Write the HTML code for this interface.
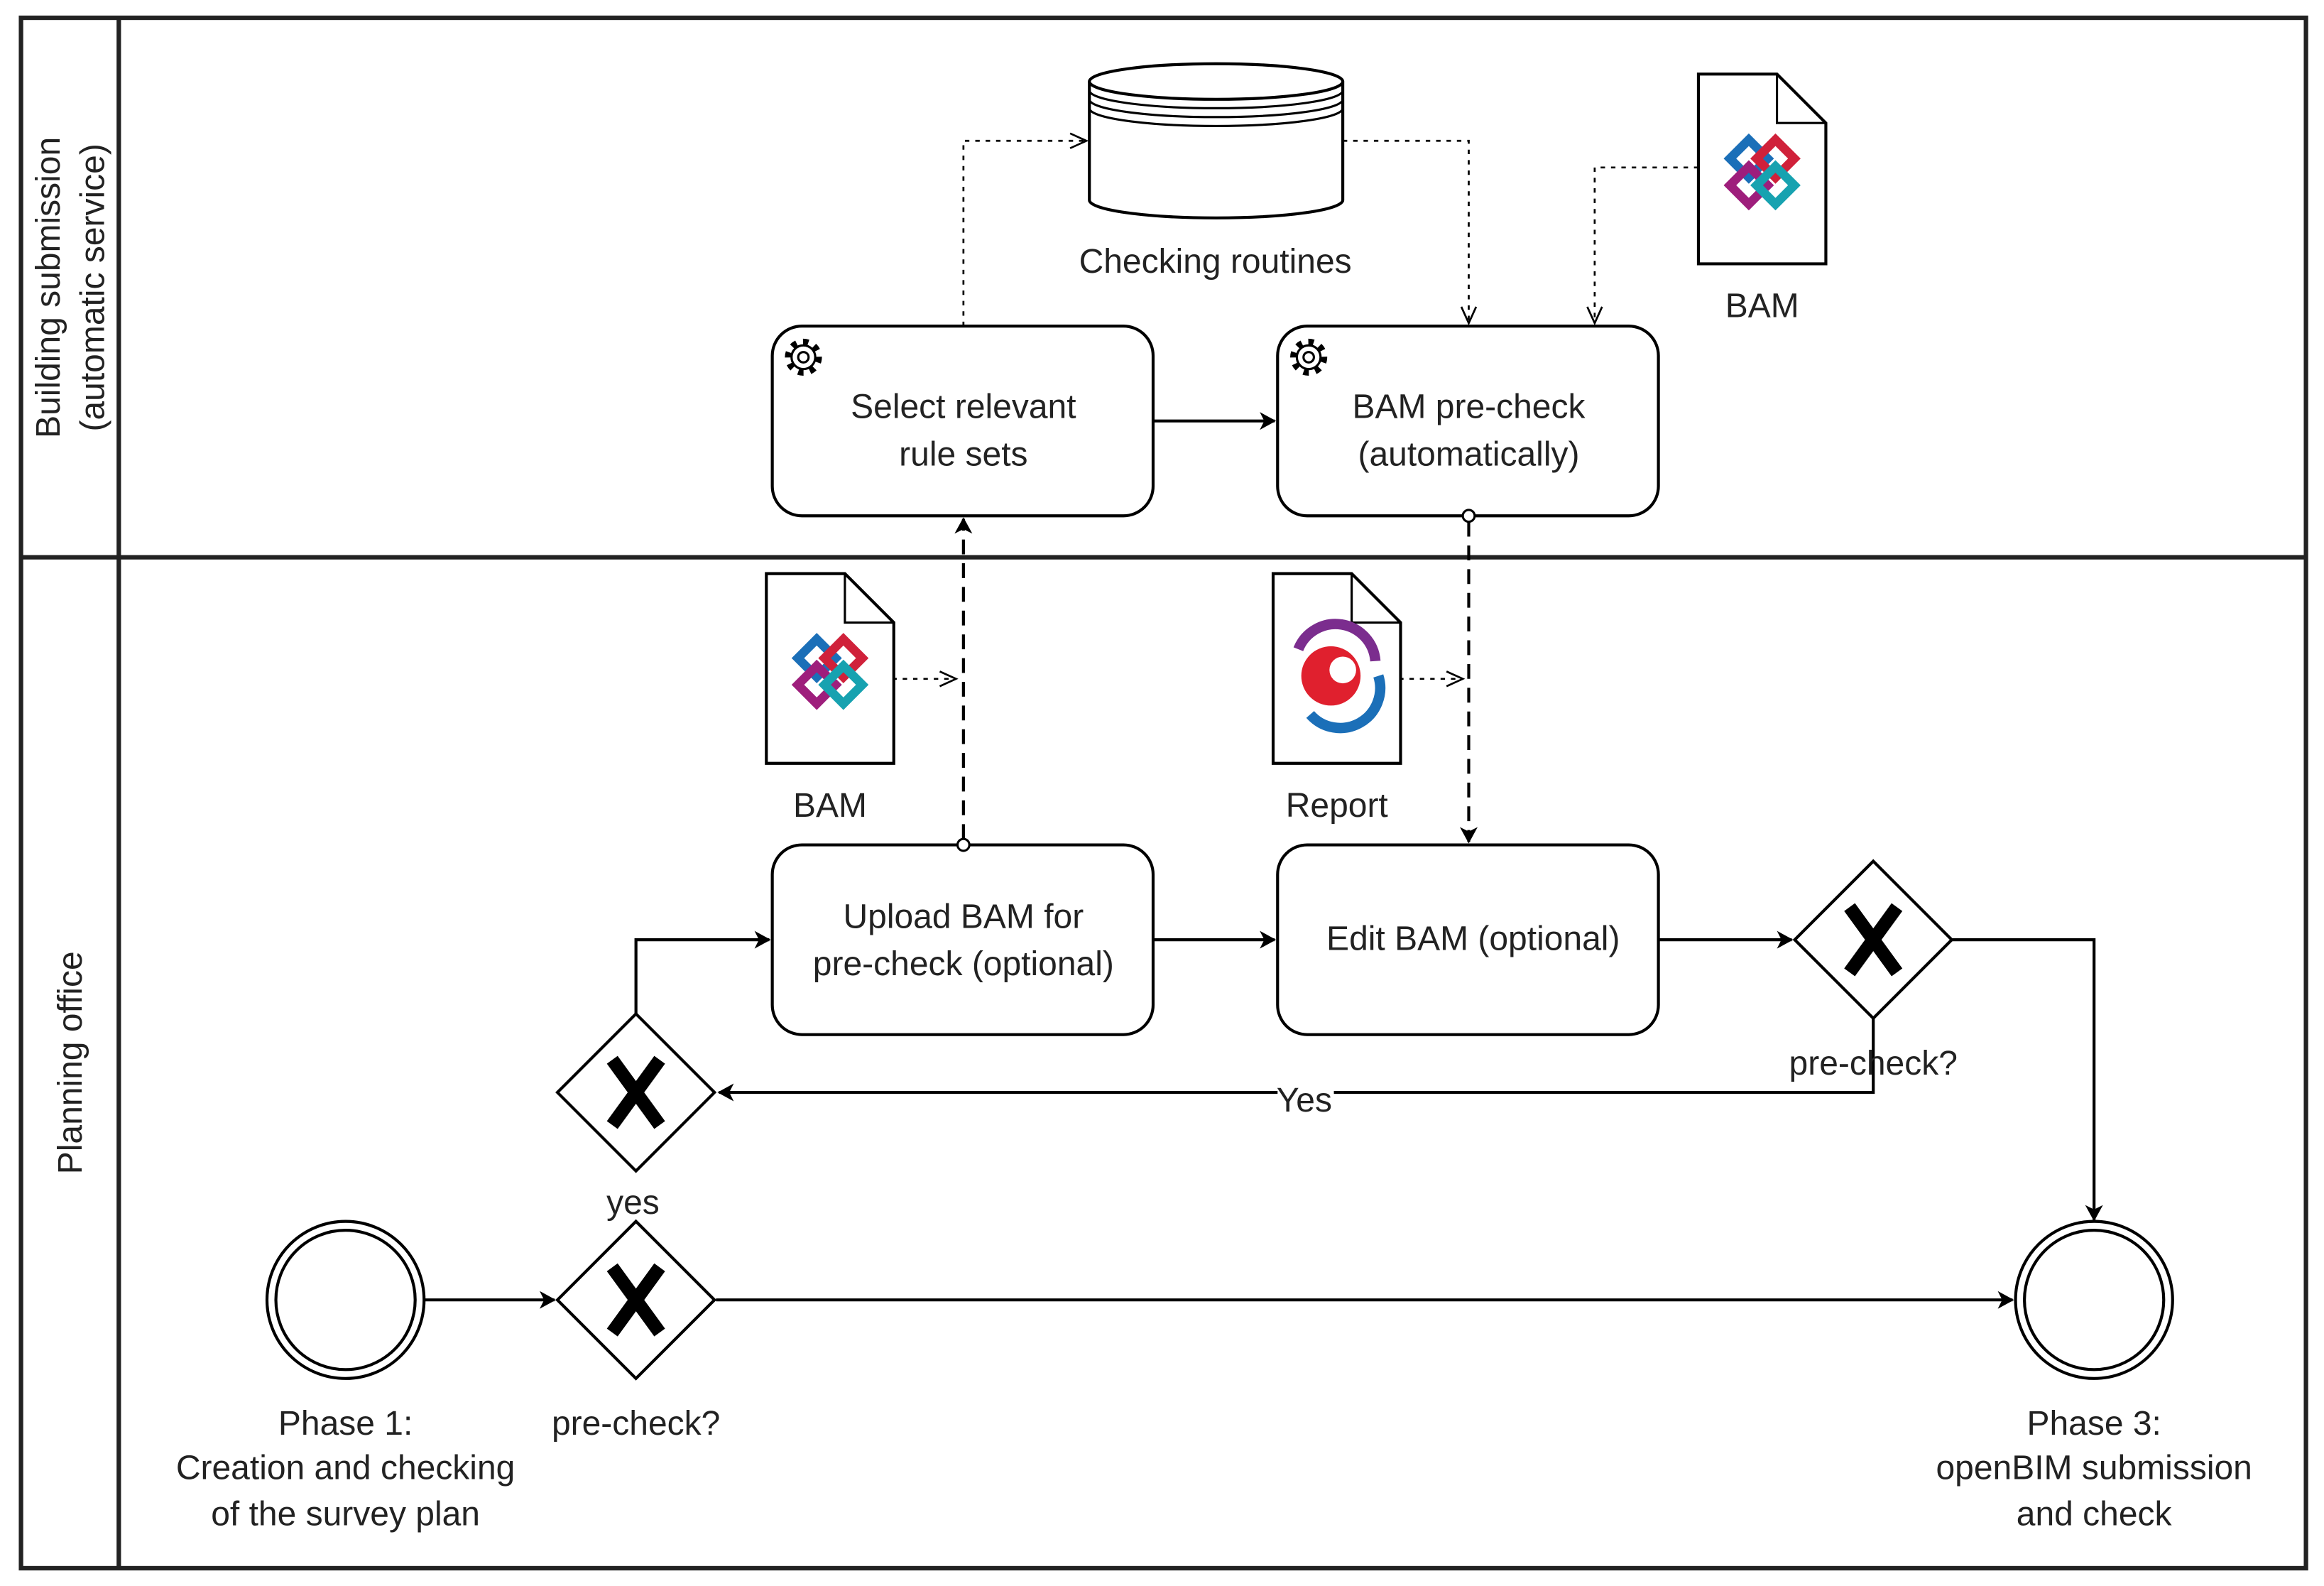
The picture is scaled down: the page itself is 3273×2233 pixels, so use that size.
<!DOCTYPE html>
<html><head><meta charset="utf-8"><style>
html,body{margin:0;padding:0;background:#fff;}
svg{display:block;}
text{font-family:"Liberation Sans",sans-serif;font-size:23px;fill:#222;text-anchor:middle;}
</style></head><body>
<svg width="3273" height="2233" viewBox="0 0 1568 1070" xmlns="http://www.w3.org/2000/svg">
<defs>
<marker id="a" markerWidth="12" markerHeight="12" refX="10" refY="6" orient="auto" markerUnits="userSpaceOnUse"><path d="M0,0 L11,6 L0,12 L3,6 Z" fill="#000"/></marker>
<marker id="o" markerWidth="14" markerHeight="12" refX="12" refY="6" orient="auto" markerUnits="userSpaceOnUse"><path d="M1,1 L12,6 L1,11" fill="none" stroke="#000" stroke-width="1.3"/></marker>
<g id="ifc">
<g fill="none" stroke-width="6">
<rect x="-14" y="-22" width="18" height="18" transform="rotate(45 -5 -13)" stroke="#1b6fb8"/>
<rect x="4" y="-22" width="18" height="18" transform="rotate(45 13 -13)" stroke="#d0213a"/>
<rect x="-14" y="-4" width="18" height="18" transform="rotate(45 -5 5)" stroke="#9e1e7c"/>
<rect x="4" y="-4" width="18" height="18" transform="rotate(45 13 5)" stroke="#17a2b0"/>
</g></g>
<g id="doc"><path d="M0,0 H53 L86,33 V128 H0 Z" fill="#fff" stroke="#000" stroke-width="2"/><path d="M53,0 V33 H86" fill="none" stroke="#000" stroke-width="1.5"/></g>
<g id="gear"><circle r="10" fill="none" stroke="#000" stroke-width="5" stroke-dasharray="3.5 4.3"/><circle r="8" fill="#fff" stroke="#000" stroke-width="1.5"/><circle r="3.5" fill="none" stroke="#000" stroke-width="1.5"/></g>
</defs>
<rect x="14" y="12" width="1542" height="1046" fill="none" stroke="#222" stroke-width="3"/>
<line x1="14" y1="376" x2="1556" y2="376" stroke="#222" stroke-width="3"/>
<line x1="80" y1="12" x2="80" y2="1058" stroke="#222" stroke-width="3"/>
<text transform="translate(40,194) rotate(-90)">Building submission</text>
<text transform="translate(70,194) rotate(-90)">(automatic service)</text>
<text transform="translate(55,717) rotate(-90)">Planning office</text>

<path d="M735,55 V135 A85.5,12 0 0 0 906,135 V55" fill="#fff" stroke="#000" stroke-width="2"/>
<ellipse cx="820.5" cy="55" rx="85.5" ry="12" fill="#fff" stroke="#000" stroke-width="2"/>
<path d="M735,61 A85.5,12 0 0 0 906,61 M735,67 A85.5,12 0 0 0 906,67 M735,73 A85.5,12 0 0 0 906,73" fill="none" stroke="#000" stroke-width="1.5"/>
<text x="820" y="184">Checking routines</text>

<use href="#doc" x="1146" y="50"/>
<use href="#ifc" x="1185" y="120"/>
<text x="1189" y="214">BAM</text>

<rect x="521" y="220" width="257" height="128" rx="20" fill="#fff" stroke="#000" stroke-width="2"/>
<use href="#gear" x="542" y="241"/>
<text x="650" y="282">Select relevant</text><text x="650" y="314">rule sets</text>
<rect x="862" y="220" width="257" height="128" rx="20" fill="#fff" stroke="#000" stroke-width="2"/>
<use href="#gear" x="883" y="241"/>
<text x="991" y="282">BAM pre-check</text><text x="991" y="314">(automatically)</text>
<rect x="521" y="570" width="257" height="128" rx="20" fill="#fff" stroke="#000" stroke-width="2"/>
<text x="650" y="626">Upload BAM for</text><text x="650" y="658">pre-check (optional)</text>
<rect x="862" y="570" width="257" height="128" rx="20" fill="#fff" stroke="#000" stroke-width="2"/>
<text x="994" y="641">Edit BAM (optional)</text>

<line x1="778" y1="284" x2="860" y2="284" stroke="#000" stroke-width="2" marker-end="url(#a)"/>
<g fill="none" stroke="#000" stroke-width="1.3" stroke-dasharray="3 4">
<path d="M650,220 V95 H733" marker-end="url(#o)"/>
<path d="M906,95 H991 V218" marker-end="url(#o)"/>
<path d="M1146,113 H1076 V218" marker-end="url(#o)"/>
<path d="M602,458 H645" marker-end="url(#o)"/>
<path d="M944,458 H987" marker-end="url(#o)"/>
</g>
<g fill="none" stroke="#000" stroke-width="2" stroke-dasharray="10 6">
<path d="M650,566 V350" marker-end="url(#a)"/>
<path d="M991,352 V568" marker-end="url(#a)"/>
</g>
<circle cx="650" cy="570" r="4" fill="#fff" stroke="#000" stroke-width="1.5"/>
<circle cx="991" cy="348" r="4" fill="#fff" stroke="#000" stroke-width="1.5"/>

<use href="#doc" x="517" y="387"/>
<use href="#ifc" x="556" y="457"/>
<text x="560" y="551">BAM</text>
<use href="#doc" x="859" y="387"/>
<circle cx="898" cy="456" r="20" fill="#e0202e"/>
<g fill="none" stroke-width="7">
<path d="M876,438 A27,27 0 0 1 928,446" stroke="#7b2d8e"/>
<path d="M930,456 A27,27 0 0 1 884,482" stroke="#1b6fb8"/>
</g>
<circle cx="906" cy="452" r="9" fill="#fff"/>
<text x="902" y="551">Report</text>

<g fill="none" stroke="#000" stroke-width="2">
<path d="M778,634 H860" marker-end="url(#a)"/>
<path d="M1119,634 H1209" marker-end="url(#a)"/>
<path d="M1317,634 H1413 V823" marker-end="url(#a)"/>
<path d="M1264,687 V737 H485" marker-end="url(#a)"/>
<path d="M429,684 V634 H519" marker-end="url(#a)"/>
<path d="M286,877 H374" marker-end="url(#a)"/>
<path d="M483,877 H1358" marker-end="url(#a)"/>
</g>
<rect x="862" y="728" width="38" height="22" fill="#fff"/>
<text x="880" y="750">Yes</text>

<g stroke="#000" stroke-width="2" fill="#fff">
<path d="M1264,581 L1317,634 L1264,687 L1211,634 Z"/>
<path d="M429,684 L482,737 L429,790 L376,737 Z"/>
<path d="M429,824 L482,877 L429,930 L376,877 Z"/>
</g>
<g stroke="#000" stroke-width="9" stroke-linecap="butt">
<path d="M1248,612 L1280,656 M1280,612 L1248,656"/>
<path d="M413,715 L445,759 M445,715 L413,759"/>
<path d="M413,855 L445,899 M445,855 L413,899"/>
</g>
<text x="1264" y="725">pre-check?</text>
<text x="427" y="819">yes</text>
<text x="429" y="968">pre-check?</text>

<circle cx="233" cy="877" r="53" fill="#fff" stroke="#000" stroke-width="2"/>
<circle cx="233" cy="877" r="47" fill="none" stroke="#000" stroke-width="2"/>
<circle cx="1413" cy="877" r="53" fill="#fff" stroke="#000" stroke-width="2"/>
<circle cx="1413" cy="877" r="47" fill="none" stroke="#000" stroke-width="2"/>
<text x="233" y="968">Phase 1:</text><text x="233" y="998">Creation and checking</text><text x="233" y="1029">of the survey plan</text>
<text x="1413" y="968">Phase 3:</text><text x="1413" y="998">openBIM submission</text><text x="1413" y="1029">and check</text>
</svg>
</body></html>
